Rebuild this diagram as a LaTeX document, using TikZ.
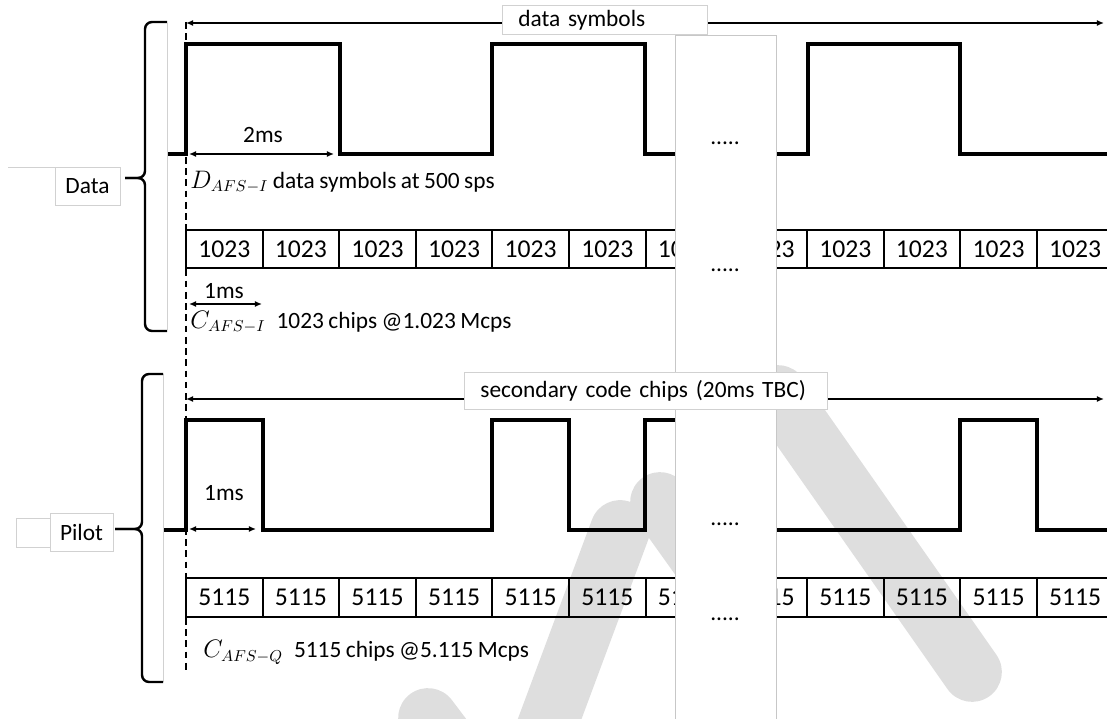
\documentclass[tikz,border=0pt]{standalone}
\usepackage{fontspec}
\setmainfont{Carlito}[WordSpace=0.85]
\usetikzlibrary{arrows.meta}

\tikzset{
	every node/.style={font=\fontsize{13.3}{16}\selectfont},
	wave/.style={line width=1.9pt, line join=miter},
	origin/.style={line width=0.75pt, dash pattern=on 3.8pt off 2.6pt},
	dimline/.style={line width=0.75pt, {Latex[length=4pt,width=3.4pt]}-{Latex[length=4pt,width=3.4pt]}},
	chipbox/.style={draw, line width=1.1pt, minimum width=1.532cm, inner sep=0pt, font=\fontsize{14.6}{17}\selectfont},
	labelbox/.style={draw=black!18, fill=white, line width=0.5pt, inner ysep=0pt},
	cbrace/.style={line width=1.4pt, rounded corners=4pt},
	frameline/.style={draw=black!18, line width=0.5pt},
	gapbox/.style={fill=white, draw=black!22, line width=0.5pt},
	wmark/.style={draw=black!13, line width=34pt, line cap=round},
}

\begin{document}
\begin{tikzpicture}[x=0.02cm,y=-0.02cm]
	\useasboundingbox (0,0) rectangle (1107,719);
	\clip (0,0) rectangle (1107,719);

	% draft watermark
	\draw[wmark] (428,718) -- (490,800);
	\draw[wmark] (540,745) -- (620,530);
	\draw[wmark] (660,502) -- (705,565);
	\draw[wmark] (778,395) -- (972,672);

	% dashed time origin
	\coordinate (t0 top) at (186,22);
	\coordinate (t0 bot) at (186,672);
	\draw[origin] (t0 top) -- (t0 bot);

	% data channel
	\coordinate (ds left) at (186,23);
	\coordinate (ds right) at (1104,23);
	\draw[dimline] (ds left) -- (ds right);
	\draw[wave] (168,154) -- (186,154) -- (186,44) -- (340,44) -- (340,154) -- (492,154) -- (492,44) -- (645,44) -- (645,154) -- (808,154) -- (808,44) -- (960,44) -- (960,154) -- (1107,154);
	\coordinate (sym a) at (189,154);
	\coordinate (sym b) at (334,154);
	\draw[dimline] (sym a) -- (sym b);
	\node (sym len) at (263,135) {2ms};
	\node[anchor=west, inner sep=0pt] (sym text) at (190,182) {$D_{AFS-I}$ data symbols at 500 sps};

	\foreach \i in {0,...,6}
		\node[chipbox, minimum height=0.76cm] (dchip l\i) at ({224.3+76.6*\i},249) {1023\hspace{0.2cm}};
	\foreach \i in {0,...,4}
		\node[chipbox, minimum height=0.76cm] (dchip r\i) at ({768.7+76.6*\i},249) {1023\hspace{0.2cm}};

	\coordinate (dc a) at (189,304);
	\coordinate (dc b) at (262,304);
	\draw[dimline] (dc a) -- (dc b);
	\node (dc len) at (224,291) {1ms};
	\node[anchor=west, inner sep=0pt] (dc text) at (190,322) {$C_{AFS-I}$\; 1023 chips @1.023 Mcps};

	% pilot channel
	\coordinate (sc left) at (186,399);
	\coordinate (sc right) at (1104,399);
	\draw[dimline] (sc left) -- (sc right);
	\draw[wave] (163,530) -- (186,530) -- (186,420) -- (263,420) -- (263,530) -- (492,530) -- (492,420) -- (569,420) -- (569,530) -- (645,530) -- (645,420) -- (722,420) -- (722,530) -- (960,530) -- (960,420) -- (1037,420) -- (1037,530) -- (1107,530);
	\coordinate (sc a) at (189,529);
	\coordinate (sc b) at (256,529);
	\draw[dimline] (sc a) -- (sc b);
	\node (sc len) at (224,493) {1ms};

	\foreach \i in {0,...,6}
		\node[chipbox, minimum height=0.78cm] (pchip l\i) at ({224.3+76.6*\i},597.5) {5115\hspace{0.2cm}};
	\foreach \i in {0,...,4}
		\node[chipbox, minimum height=0.78cm] (pchip r\i) at ({768.7+76.6*\i},597.5) {5115\hspace{0.2cm}};

	\node[anchor=west, inner sep=0pt] (pc text) at (203,652) {$C_{AFS-Q}$\; 5115 chips @5.115 Mcps};

	% braces and their frames
	\draw[frameline] (167,23) -- (167,330);
	\draw[frameline] (163,374) -- (163,682);
	\draw[cbrace] (167,22) -- (145,22) -- (145,178) -- (125,178);
	\draw[cbrace] (125,178) -- (145,178) -- (145,331) -- (167,331);
	\draw[cbrace] (163,374) -- (142,374) -- (142,529) -- (115,529);
	\draw[cbrace] (115,529) -- (142,529) -- (142,682) -- (163,682);

	\draw[frameline] (8,167) -- (55,167);
	\node[labelbox, minimum width=1.3cm, minimum height=0.76cm] (data lbl) at (87.5,186) {Data};
	\node[labelbox, minimum width=0.8cm, minimum height=0.58cm] (pilot back) at (36,532.5) {};
	\node[labelbox, minimum width=1.26cm, minimum height=0.76cm] (pilot lbl) at (81.5,532) {Pilot};

	% omitted middle part
	\draw[gapbox] (675,35) rectangle (776,730);
	\node (gap d1) at (725,143) {.....};
	\node (gap d2) at (725,270) {.....};
	\node (gap p1) at (725,524) {.....};
	\node (gap p2) at (725,619) {.....};

	% span labels
	\node[labelbox, anchor=north west, minimum height=0.58cm, text width=3.46cm, inner xsep=0.32cm, align=left] (ds lbl) at (502,5) {data symbols};
	\node[labelbox, anchor=north west, minimum height=0.74cm, text width=6.62cm, inner xsep=0.32cm, align=left] (sc lbl) at (464,372) {secondary code chips (20ms TBC)};
\end{tikzpicture}
\end{document}
